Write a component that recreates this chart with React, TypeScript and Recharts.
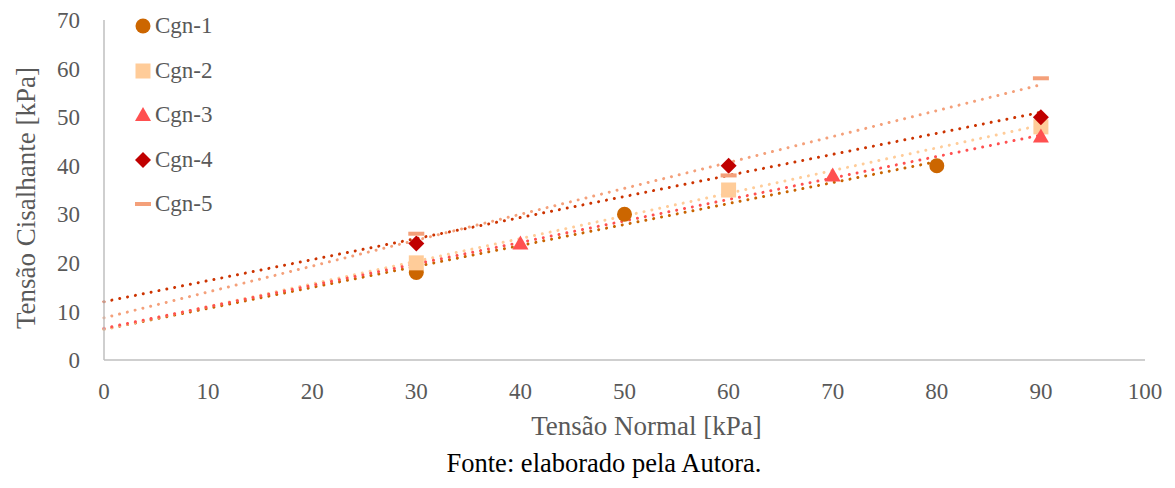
import { ComposedChart, Scatter, Line, XAxis, YAxis } from 'recharts';

// Ensaios de cisalhamento direto — tensão normal x tensão cisalhante
const cgn1Normal = [30, 50, 80];
const cgn1Shear = [18, 30, 40];
const cgn2Normal = [30, 60, 90];
const cgn2Shear = [20, 35, 48];
const cgn3Normal = [40, 70, 90];
const cgn3Shear = [24, 38, 46];
const cgn4Normal = [30, 60, 90];
const cgn4Shear = [24, 40, 50];
const cgn5Normal = [30, 60, 90];
const cgn5Shear = [26, 38, 58];

const xTicks = [0, 10, 20, 30, 40, 50, 60, 70, 80, 90, 100];
const yTicks = [0, 10, 20, 30, 40, 50, 60, 70];

const FONT = '"Liberation Serif", "Times New Roman", serif';
const GREY_TEXT = '#595959';
const AXIS_GREY = '#BFBFBF';

type Marker = 'circle' | 'square' | 'triangle' | 'diamond' | 'dash';

interface Serie {
  name: string;
  xs: number[];
  ys: number[];
  color: string;
  trendColor: string;
  marker: Marker;
}

const series: Serie[] = [
  { name: 'Cgn-1', xs: cgn1Normal, ys: cgn1Shear, color: '#CC6600', trendColor: '#C86400', marker: 'circle' },
  { name: 'Cgn-2', xs: cgn2Normal, ys: cgn2Shear, color: '#FFCC99', trendColor: '#FFCC99', marker: 'square' },
  { name: 'Cgn-3', xs: cgn3Normal, ys: cgn3Shear, color: '#FF5050', trendColor: '#FF5050', marker: 'triangle' },
  { name: 'Cgn-4', xs: cgn4Normal, ys: cgn4Shear, color: '#C00000', trendColor: '#CC3300', marker: 'diamond' },
  { name: 'Cgn-5', xs: cgn5Normal, ys: cgn5Shear, color: '#F4A07A', trendColor: '#F4A07A', marker: 'dash' },
];

// linha de tendência linear (mínimos quadrados), de x = 0 até o último ensaio
function trend(xs: number[], ys: number[]) {
  const n = xs.length;
  const mx = xs.reduce((a, b) => a + b, 0) / n;
  const my = ys.reduce((a, b) => a + b, 0) / n;
  let sxy = 0;
  let sxx = 0;
  xs.forEach((x, i) => {
    sxy += (x - mx) * (ys[i] - my);
    sxx += (x - mx) * (x - mx);
  });
  const slope = sxy / sxx;
  const icpt = my - slope * mx;
  const xEnd = Math.max(...xs);
  return [
    { x: 0, y: icpt },
    { x: xEnd, y: icpt + slope * xEnd },
  ];
}

function drawMarker(marker: Marker, cx: number, cy: number, color: string) {
  switch (marker) {
    case 'circle':
      return <circle cx={cx} cy={cy} r={7.5} fill={color} />;
    case 'square':
      return <rect x={cx - 7.5} y={cy - 7.5} width={15} height={15} fill={color} />;
    case 'triangle':
      return (
        <polygon
          points={`${cx},${cy - 8} ${cx + 8},${cy + 6} ${cx - 8},${cy + 6}`}
          fill={color}
        />
      );
    case 'diamond':
      return (
        <polygon
          points={`${cx},${cy - 8} ${cx + 8},${cy} ${cx},${cy + 8} ${cx - 8},${cy}`}
          fill={color}
        />
      );
    default:
      return <rect x={cx - 8} y={cy - 2} width={16} height={4} fill={color} />;
  }
}

function LegendBox() {
  return (
    <div style={{ position: 'absolute', left: 134, top: 4, fontFamily: FONT }}>
      {series.map((s) => (
        <div
          key={s.name}
          style={{ display: 'flex', alignItems: 'center', height: 44.5 }}
        >
          <svg width={18} height={18}>
            {drawMarker(s.marker, 9, 9, s.color)}
          </svg>
          <span style={{ marginLeft: 3, fontSize: 23, color: GREY_TEXT }}>{s.name}</span>
        </div>
      ))}
    </div>
  );
}

export default function App() {
  return (
    <div style={{ position: 'absolute', left: 0, top: 0, width: 1175, height: 488, background: '#fff' }}>
      <ComposedChart
        width={1175}
        height={488}
        margin={{ top: 20, right: 30, bottom: 88, left: 0 }}
      >
        <XAxis
          type="number"
          dataKey="x"
          domain={[0, 100]}
          ticks={xTicks}
          height={40}
          tickSize={0}
          tickMargin={23}
          axisLine={{ stroke: AXIS_GREY, strokeWidth: 1.5 }}
          tick={{ fill: GREY_TEXT, fontSize: 23, fontFamily: FONT }}
          label={{
            content: (p: any) => {
              const vb = p.viewBox;
              return (
                <text
                  x={vb.x + vb.width / 2 + 22}
                  y={vb.y + 75}
                  textAnchor="middle"
                  fill={GREY_TEXT}
                  fontSize={27}
                  fontFamily={FONT}
                >
                  Tensão Normal [kPa]
                </text>
              );
            },
          }}
        />
        <YAxis
          type="number"
          dataKey="y"
          domain={[0, 70]}
          ticks={yTicks}
          width={104}
          tickSize={0}
          tickMargin={24}
          axisLine={{ stroke: AXIS_GREY, strokeWidth: 1.5 }}
          tick={{ fill: GREY_TEXT, fontSize: 23, fontFamily: FONT }}
          label={{
            content: () => (
              <text
                x={35}
                y={198}
                transform="rotate(-90, 35, 198)"
                textAnchor="middle"
                fill={GREY_TEXT}
                fontSize={27}
                fontFamily={FONT}
              >
                Tensão Cisalhante [kPa]
              </text>
            ),
          }}
        />
        {series.map((s) => (
          <Scatter
            key={s.name}
            name={s.name}
            data={s.xs.map((x, i) => ({ x, y: s.ys[i] }))}
            isAnimationActive={false}
            shape={(p: any) => drawMarker(s.marker, p.cx, p.cy, s.color)}
          />
        ))}
        {series.map((s) => (
          <Line
            key={s.name + '-trend'}
            data={trend(s.xs, s.ys)}
            dataKey="y"
            type="linear"
            stroke={s.trendColor}
            strokeWidth={3}
            strokeDasharray="0.01 8"
            strokeLinecap="round"
            dot={false}
            activeDot={false}
            legendType="none"
            isAnimationActive={false}
          />
        ))}
      </ComposedChart>
      <LegendBox />
      <div
        style={{
          position: 'absolute',
          left: 0,
          width: 1208,
          top: 450,
          textAlign: 'center',
          fontFamily: FONT,
          fontSize: 26.5,
          lineHeight: 1,
          color: '#000',
        }}
      >
        Fonte: elaborado pela Autora.
      </div>
    </div>
  );
}
